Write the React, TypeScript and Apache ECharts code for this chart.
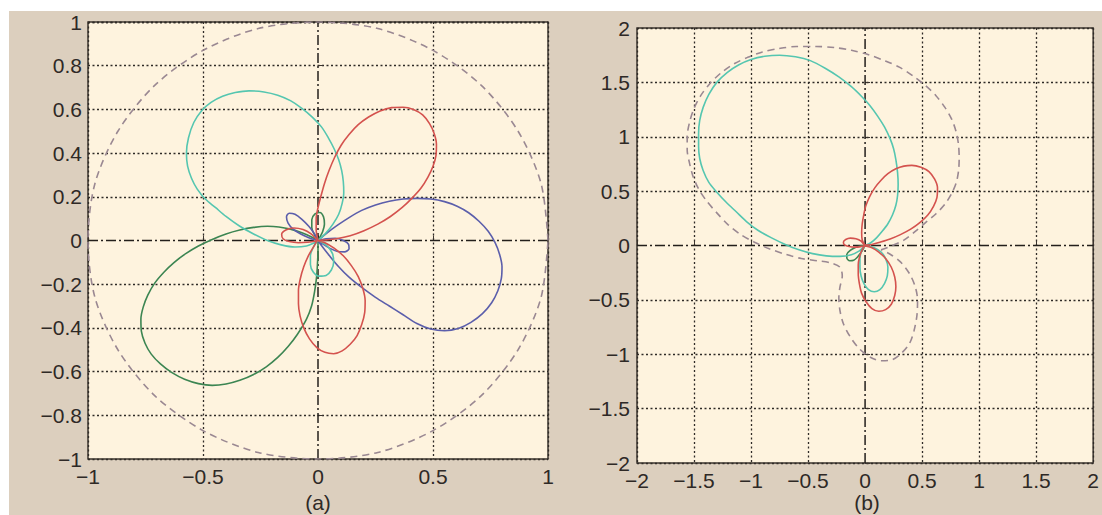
import React, { useEffect, useRef } from "react";
import * as echarts from "echarts";

type P = [number, number];

// ---------- Panel (a) ----------
const aTicksX = [-1, -0.5, 0, 0.5, 1];
const aTicksY = [-1, -0.8, -0.6, -0.4, -0.2, 0, 0.2, 0.4, 0.6, 0.8, 1];

const aDashed: P[] = [
  [1, 0], [0.97, 0.26], [0.87, 0.5], [0.71, 0.71], [0.5, 0.87], [0.26, 0.97], [0, 1],
  [-0.26, 0.97], [-0.5, 0.87], [-0.71, 0.71], [-0.87, 0.5], [-0.97, 0.26], [-1, 0],
  [-0.97, -0.26], [-0.87, -0.5], [-0.71, -0.71], [-0.5, -0.87], [-0.26, -0.97], [0, -1],
  [0.26, -0.97], [0.5, -0.87], [0.71, -0.71], [0.87, -0.5], [0.97, -0.26], [1, 0],
];

const aCyan: P[] = [
  [0, 0], [0.035, 0.035], [0.065, 0.075], [0.09, 0.12], [0.105, 0.17], [0.112, 0.22],
  [0.11, 0.27], [0.103, 0.32], [0.09, 0.37], [0.07, 0.42], [0.045, 0.47], [0.015, 0.52],
  [-0.025, 0.565], [-0.07, 0.605], [-0.12, 0.64], [-0.175, 0.665], [-0.235, 0.68],
  [-0.3, 0.685], [-0.36, 0.677], [-0.415, 0.66], [-0.465, 0.632], [-0.505, 0.595],
  [-0.54, 0.54], [-0.563, 0.47], [-0.572, 0.4], [-0.567, 0.34], [-0.55, 0.285],
  [-0.525, 0.235], [-0.49, 0.19], [-0.445, 0.15], [-0.4, 0.11], [-0.34, 0.065],
  [-0.28, 0.03], [-0.22, 0.0], [-0.16, -0.02], [-0.1, -0.03], [-0.05, -0.025],
  [-0.015, -0.01], [0, 0],
  [-0.02, -0.03], [-0.033, -0.07], [-0.033, -0.11], [-0.02, -0.145], [0.005, -0.163],
  [0.035, -0.16], [0.058, -0.135], [0.068, -0.1], [0.063, -0.06], [0.04, -0.025],
  [0.015, -0.007], [0, 0],
];

const aRed: P[] = [
  [0, 0], [-0.008, 0.05], [-0.008, 0.1], [0.0, 0.15], [0.012, 0.2], [0.028, 0.26],
  [0.048, 0.32], [0.072, 0.38], [0.1, 0.435], [0.135, 0.485], [0.175, 0.53], [0.22, 0.565],
  [0.27, 0.593], [0.32, 0.608], [0.37, 0.61], [0.415, 0.6], [0.455, 0.575], [0.485, 0.535],
  [0.505, 0.49], [0.515, 0.44], [0.513, 0.39], [0.5, 0.34], [0.478, 0.29], [0.448, 0.24],
  [0.41, 0.195], [0.365, 0.15], [0.315, 0.11], [0.26, 0.075], [0.2, 0.045], [0.14, 0.022],
  [0.08, 0.008], [0.03, 0.002], [0, 0],
  [-0.02, -0.03], [-0.042, -0.07], [-0.062, -0.12], [-0.077, -0.175], [-0.085, -0.23],
  [-0.085, -0.29], [-0.078, -0.345], [-0.062, -0.4], [-0.037, -0.45], [-0.005, -0.49],
  [0.03, -0.512], [0.068, -0.518], [0.105, -0.505], [0.14, -0.475], [0.17, -0.435],
  [0.19, -0.385], [0.203, -0.33], [0.205, -0.275], [0.195, -0.22], [0.175, -0.165],
  [0.145, -0.115], [0.11, -0.07], [0.07, -0.035], [0.03, -0.01], [0, 0],
  [-0.03, 0.03], [-0.065, 0.05], [-0.105, 0.057], [-0.14, 0.048], [-0.158, 0.028],
  [-0.152, 0.008], [-0.125, -0.005], [-0.085, -0.01], [-0.045, -0.008], [-0.015, -0.003],
  [0, 0],
];

const aBlue: P[] = [
  [0, 0], [0.04, 0.035], [0.085, 0.07], [0.135, 0.105], [0.19, 0.138], [0.25, 0.163],
  [0.31, 0.18], [0.37, 0.19], [0.43, 0.193], [0.49, 0.19], [0.55, 0.178], [0.605, 0.157],
  [0.655, 0.127], [0.7, 0.088], [0.74, 0.042], [0.77, -0.01], [0.79, -0.065], [0.8, -0.12],
  [0.797, -0.175], [0.782, -0.23], [0.755, -0.285], [0.715, -0.335], [0.665, -0.375],
  [0.61, -0.403], [0.55, -0.413], [0.49, -0.405], [0.43, -0.38], [0.37, -0.34],
  [0.31, -0.3], [0.25, -0.26], [0.19, -0.215], [0.135, -0.168], [0.09, -0.12],
  [0.05, -0.07], [0.02, -0.03], [0, 0],
  [-0.015, 0.03], [-0.04, 0.065], [-0.07, 0.097], [-0.1, 0.12], [-0.125, 0.125],
  [-0.137, 0.108], [-0.13, 0.08], [-0.108, 0.052], [-0.075, 0.03], [-0.04, 0.013],
  [-0.012, 0.003], [0, 0],
  [0.035, 0.008], [0.075, 0.01], [0.11, 0.0], [0.133, -0.018], [0.135, -0.038],
  [0.115, -0.052], [0.085, -0.05], [0.05, -0.035], [0.02, -0.015], [0, 0],
];

const aGreen: P[] = [
  [0, 0], [-0.03, 0.017], [-0.07, 0.035], [-0.12, 0.052], [-0.17, 0.062], [-0.22, 0.065],
  [-0.28, 0.06], [-0.34, 0.048], [-0.4, 0.03], [-0.46, 0.005], [-0.52, -0.025],
  [-0.575, -0.06], [-0.625, -0.1], [-0.67, -0.145], [-0.71, -0.195], [-0.74, -0.25],
  [-0.76, -0.305], [-0.77, -0.36], [-0.768, -0.415], [-0.752, -0.47], [-0.725, -0.52],
  [-0.685, -0.565], [-0.635, -0.605], [-0.58, -0.635], [-0.52, -0.655], [-0.46, -0.663],
  [-0.4, -0.657], [-0.34, -0.64], [-0.28, -0.613], [-0.225, -0.578], [-0.175, -0.535],
  [-0.13, -0.485], [-0.09, -0.43], [-0.05, -0.36], [-0.028, -0.3], [-0.015, -0.235],
  [-0.006, -0.165], [-0.002, -0.1], [0, -0.045], [0, 0],
  [-0.015, 0.025], [-0.027, 0.06], [-0.027, 0.095], [-0.013, 0.122], [0.008, 0.128],
  [0.024, 0.108], [0.028, 0.075], [0.02, 0.04], [0.008, 0.015], [0, 0],
];

// ---------- Panel (b) ----------
const bTicks = [-2, -1.5, -1, -0.5, 0, 0.5, 1, 1.5, 2];

const bDashed: P[] = [
  [0.14, -0.04], [0.24, 0.0], [0.34, 0.05], [0.44, 0.13], [0.53, 0.21], [0.62, 0.29],
  [0.7, 0.38], [0.76, 0.48], [0.8, 0.58], [0.82, 0.69], [0.825, 0.8], [0.82, 0.92],
  [0.8, 1.04], [0.76, 1.16], [0.7, 1.27], [0.62, 1.38], [0.53, 1.47], [0.42, 1.56],
  [0.3, 1.64], [0.17, 1.7], [0.03, 1.755], [-0.12, 1.795], [-0.27, 1.82], [-0.43, 1.83],
  [-0.6, 1.83], [-0.76, 1.81], [-0.9, 1.78], [-1.03, 1.73], [-1.15, 1.67], [-1.26, 1.59],
  [-1.36, 1.49], [-1.44, 1.38], [-1.5, 1.26], [-1.54, 1.13], [-1.56, 1.0], [-1.56, 0.88],
  [-1.54, 0.76], [-1.51, 0.64], [-1.46, 0.52], [-1.39, 0.41], [-1.3, 0.3], [-1.2, 0.19],
  [-1.09, 0.1], [-0.97, 0.03], [-0.84, -0.03], [-0.7, -0.08], [-0.56, -0.12],
  [-0.42, -0.14], [-0.3, -0.16], [-0.22, -0.2], [-0.2, -0.28], [-0.22, -0.38],
  [-0.23, -0.48], [-0.22, -0.6], [-0.19, -0.72], [-0.13, -0.84], [-0.05, -0.95],
  [0.05, -1.03], [0.14, -1.06], [0.24, -1.05], [0.32, -0.99], [0.39, -0.9], [0.43, -0.78],
  [0.455, -0.64], [0.46, -0.5], [0.44, -0.38], [0.39, -0.26], [0.31, -0.15], [0.22, -0.08],
  [0.14, -0.04],
];

const bCyan: P[] = [
  [0, 0], [0.05, 0.025], [0.1, 0.07], [0.15, 0.13], [0.2, 0.2], [0.24, 0.28], [0.27, 0.37],
  [0.285, 0.46], [0.29, 0.56], [0.285, 0.67], [0.27, 0.79], [0.25, 0.89], [0.22, 0.98],
  [0.17, 1.09], [0.11, 1.19], [0.04, 1.29], [-0.03, 1.37], [-0.12, 1.46], [-0.23, 1.55],
  [-0.35, 1.63], [-0.48, 1.7], [-0.61, 1.735], [-0.75, 1.75], [-0.88, 1.74], [-1.0, 1.71],
  [-1.11, 1.66], [-1.21, 1.59], [-1.3, 1.5], [-1.37, 1.39], [-1.42, 1.27], [-1.45, 1.15],
  [-1.46, 1.03], [-1.46, 0.91], [-1.45, 0.8], [-1.42, 0.69], [-1.37, 0.58], [-1.3, 0.49],
  [-1.22, 0.4], [-1.13, 0.31], [-1.04, 0.22], [-0.94, 0.14], [-0.82, 0.07], [-0.7, 0.01],
  [-0.58, -0.04], [-0.46, -0.075], [-0.34, -0.095], [-0.22, -0.1], [-0.12, -0.085],
  [-0.05, -0.05], [-0.015, -0.015], [0, 0],
  [-0.03, -0.05], [-0.045, -0.12], [-0.045, -0.2], [-0.035, -0.28], [-0.01, -0.35],
  [0.03, -0.405], [0.08, -0.425], [0.13, -0.405], [0.17, -0.35], [0.195, -0.28],
  [0.2, -0.2], [0.18, -0.12], [0.14, -0.06], [0.08, -0.02], [0.03, -0.004], [0, 0],
];

const bRed: P[] = [
  [0, 0], [-0.025, 0.05], [-0.03, 0.12], [-0.025, 0.2], [-0.012, 0.28], [0.005, 0.36],
  [0.04, 0.45], [0.085, 0.53], [0.14, 0.6], [0.2, 0.66], [0.27, 0.705], [0.34, 0.73],
  [0.41, 0.737], [0.49, 0.72], [0.56, 0.68], [0.61, 0.61], [0.635, 0.53], [0.63, 0.44],
  [0.6, 0.36], [0.55, 0.28], [0.48, 0.21], [0.4, 0.15], [0.31, 0.1], [0.22, 0.06],
  [0.13, 0.03], [0.06, 0.01], [0, 0],
  [-0.03, -0.05], [-0.05, -0.11], [-0.06, -0.18], [-0.06, -0.26], [-0.05, -0.35],
  [-0.03, -0.44], [0.01, -0.52], [0.06, -0.58], [0.12, -0.605], [0.18, -0.59],
  [0.23, -0.54], [0.26, -0.46], [0.27, -0.38], [0.26, -0.29], [0.23, -0.2], [0.18, -0.12],
  [0.12, -0.06], [0.06, -0.02], [0, 0],
  [-0.035, 0.04], [-0.08, 0.062], [-0.13, 0.068], [-0.17, 0.055], [-0.19, 0.03],
  [-0.18, 0.005], [-0.14, -0.01], [-0.09, -0.015], [-0.04, -0.01], [0, 0],
];

const bGreen: P[] = [
  [0, 0], [-0.04, -0.005], [-0.09, -0.02], [-0.13, -0.045], [-0.16, -0.08], [-0.16, -0.115],
  [-0.135, -0.14], [-0.1, -0.135], [-0.07, -0.11], [-0.04, -0.07], [-0.015, -0.03], [0, 0],
];

const C = {
  cyan: "#55c6b0",
  red: "#d4524e",
  blue: "#5b5eab",
  green: "#3c8552",
  dashed: "#9a8892",
  text: "#2e2926",
  border: "#3b342e",
  grid: "#2e2a26",
  plot: "#fef3de",
  tan: "#dccfbe",
};

const fmt = (v: number) => String(Math.round(v * 10) / 10).replace("-", "\u2212");

function splitColors(ticks: number[]) {
  return ticks.map((t) => (Math.abs(t) < 1e-9 ? "rgba(0,0,0,0)" : C.grid));
}

function axisCommon(ticks: number[], margin: number) {
  return {
    type: "value" as const,
    min: ticks[0],
    max: ticks[ticks.length - 1],
    interval: ticks[1] - ticks[0],
    axisLine: { show: false },
    axisTick: { show: true, inside: true, length: 5, lineStyle: { color: C.border, width: 1 } },
    axisLabel: {
      fontFamily: "Liberation Sans, Arial, sans-serif",
      fontSize: 21,
      color: C.text,
      margin,
      formatter: fmt,
      showMinLabel: true,
      showMaxLabel: true,
    },
    splitLine: {
      show: true,
      lineStyle: { color: splitColors(ticks), width: 1.3, type: [2, 2.5] },
    },
  };
}

function curve(data: P[], idx: number, color: string, dashed = false) {
  return {
    type: "line" as const,
    xAxisIndex: idx,
    yAxisIndex: idx,
    data,
    showSymbol: false,
    symbol: "none",
    smooth: 0.3,
    z: 3,
    silent: true,
    lineStyle: { color, width: 1.6, type: dashed ? [7, 5] : "solid" },
  };
}

function zeroLine(data: P[], idx: number) {
  return {
    type: "line" as const,
    xAxisIndex: idx,
    yAxisIndex: idx,
    data,
    showSymbol: false,
    symbol: "none",
    z: 2,
    silent: true,
    lineStyle: { color: "#231f1b", width: 1.5, type: [10, 3, 2, 3] },
  };
}

export default function App() {
  const ref = useRef<HTMLDivElement>(null);
  useEffect(() => {
    if (!ref.current) return;
    const chart = echarts.init(ref.current, undefined, { renderer: "svg" });
    const aX = aTicksX;
    const aY = aTicksY;
    chart.setOption({
      animation: false,
      grid: [
        {
          left: 88, top: 22, width: 460, height: 437, show: true,
          backgroundColor: C.plot, borderColor: C.border, borderWidth: 1.5,
        },
        {
          left: 637, top: 28, width: 461, height: 435, show: true,
          backgroundColor: C.plot, borderColor: C.border, borderWidth: 1.5,
        },
      ],
      xAxis: [
        { ...axisCommon(aX, 7), gridIndex: 0 },
        { ...axisCommon(bTicks, 7), gridIndex: 1 },
      ],
      yAxis: [
        { ...axisCommon(aY, 6), gridIndex: 0 },
        { ...axisCommon(bTicks, 7), gridIndex: 1 },
      ],
      series: [
        zeroLine([[aX[0], 0], [aX[aX.length - 1], 0]], 0),
        zeroLine([[0, aY[0]], [0, aY[aY.length - 1]]], 0),
        zeroLine([[bTicks[0], 0], [bTicks[bTicks.length - 1], 0]], 1),
        zeroLine([[0, bTicks[0]], [0, bTicks[bTicks.length - 1]]], 1),
        curve(aDashed, 0, C.dashed, true),
        curve(aGreen, 0, C.green),
        curve(aBlue, 0, C.blue),
        curve(aCyan, 0, C.cyan),
        curve(aRed, 0, C.red),
        curve(bDashed, 1, C.dashed, true),
        curve(bGreen, 1, C.green),
        curve(bCyan, 1, C.cyan),
        curve(bRed, 1, C.red),
      ],
      graphic: [
        {
          type: "text", x: 318, y: 502,
          style: {
            text: "(a)", font: "21px Liberation Sans, Arial, sans-serif", fill: C.text,
            align: "center", verticalAlign: "middle", textAlign: "center", textVerticalAlign: "middle",
          },
        },
        {
          type: "text", x: 867, y: 502,
          style: {
            text: "(b)", font: "21px Liberation Sans, Arial, sans-serif", fill: C.text,
            align: "center", verticalAlign: "middle", textAlign: "center", textVerticalAlign: "middle",
          },
        },
      ],
    });
    return () => chart.dispose();
  }, []);

  return (
    <div style={{ position: "fixed", left: 0, top: 0, width: 1102, height: 515, background: "#ffffff" }}>
      <div style={{ position: "absolute", left: 9, top: 11, width: 1093, height: 504, background: C.tan }} />
      <div ref={ref} style={{ position: "absolute", left: 0, top: 0, width: 1102, height: 515 }} />
    </div>
  );
}
